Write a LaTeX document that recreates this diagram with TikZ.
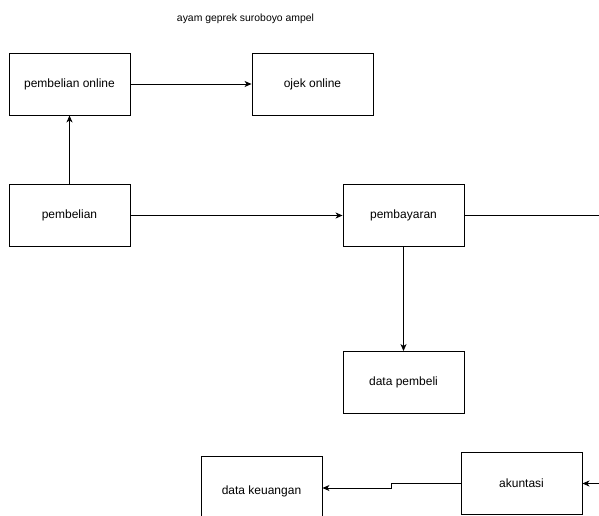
\documentclass[tikz,border=0pt]{standalone}
\usepackage{fontspec}
\setmainfont{Liberation Sans}
\usetikzlibrary{arrows.meta}
\begin{document}
\begin{tikzpicture}[x=1pt,y=-1pt,
  box/.style={draw=black,line width=0.9pt,minimum width=121pt,minimum height=62pt,inner sep=0pt,font=\fontsize{12}{14}\selectfont,anchor=center},
  conn/.style={draw=black,line width=0.8pt,-{Stealth[length=7pt,width=6pt,inset=2pt]}},
  plain/.style={draw=black,line width=0.8pt}]
\useasboundingbox (0,0) rectangle (599,516);
\clip (0,0) rectangle (599,516);
\node[font=\fontsize{10.4}{12}\selectfont] (title) at (245.5,19) {ayam geprek suroboyo ampel};
\node[box] (po) at (69.5,84) {pembelian online};
\node[box] (ojek) at (312.5,84) {ojek online};
\node[box] (pb) at (69.5,215.5) {pembelian};
\node[box] (bayar) at (403.5,215.5) {pembayaran};
\node[box] (dp) at (403.5,382.5) {data pembeli};
\node[box,minimum height=70pt] (dk) at (261.5,491) {data keuangan};
\node[box] (ak) at (521.5,483.5) {akuntasi};
\coordinate (re1) at (605,215.5);
\coordinate (re2) at (605,483.5);
\coordinate (s1) at (391.5,483.5);
\coordinate (s2) at (391.5,488);
\draw[conn] (pb.north) -- (po.south);
\draw[conn] (po.east) -- (ojek.west);
\draw[conn] (pb.east) -- (bayar.west);
\draw[plain] (bayar.east) -- (re1);
\draw[conn] (bayar.south) -- (dp.north);
\draw[conn] (re2) -- (ak.east);
\draw[conn] (ak.west) -- (s1) -- (s2) -- (dk.east |- s2);
\end{tikzpicture}
\end{document}
